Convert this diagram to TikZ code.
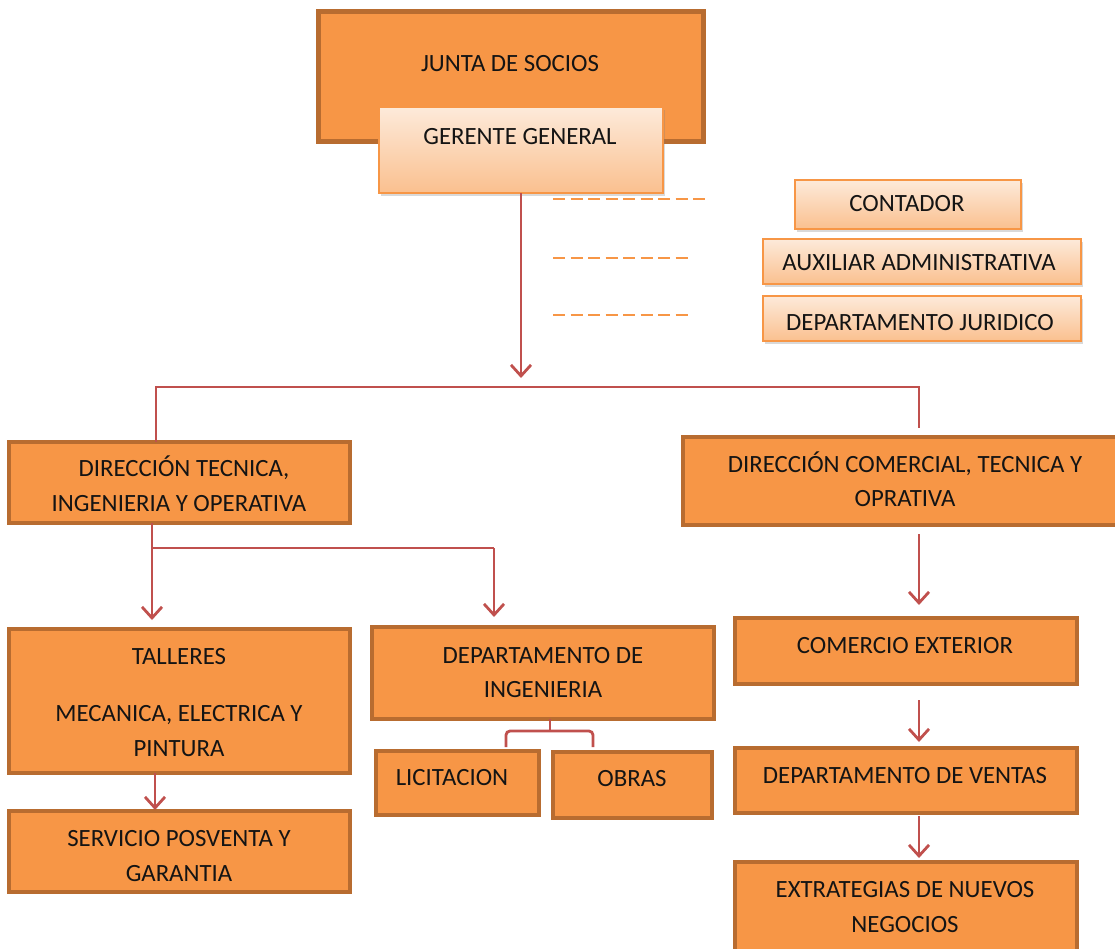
\documentclass[tikz,border=0pt]{standalone}
\usepackage{fontspec}
\setmainfont{Carlito}
\usetikzlibrary{arrows.meta,shadows}
\definecolor{orfill}{HTML}{F79646}
\definecolor{orbord}{RGB}{184,108,48}
\definecolor{conn}{HTML}{C0504D}
\definecolor{ltop}{HTML}{FDEADA}
\definecolor{lbot}{HTML}{FAC08F}
\definecolor{txtc}{HTML}{141414}
\newcommand{\mkbox}[6]{\node[#1, minimum width={#4-#2}, minimum height={#5-#3}] (#6) at ({(#2+#4)/2},{(#3+#5)/2}) {};}
\begin{document}
\begin{tikzpicture}[x=1pt,y=-1pt,
 obox/.style={draw=orbord, fill=orfill, line width=4pt, rectangle, inner sep=0pt, outer sep=0pt},
 lbox/.style={draw=orfill, line width=1.5pt, top color=ltop, bottom color=lbot, rectangle, inner sep=0pt, outer sep=0pt, drop shadow={opacity=0.3,shadow xshift=2pt,shadow yshift=-3pt}},
 lbl/.style={anchor=base, text=txtc, font=\fontsize{24.8}{30}\selectfont, inner sep=0pt},
 cline/.style={draw=conn, line width=2.8pt},
 arr/.style={cline, -{Straight Barb[length=11pt,width=20pt,line width=2.8pt]}},
 dsh/.style={draw=orfill, line width=1.6pt, dash pattern=on 12pt off 5.5pt}]
\useasboundingbox (0,0) rectangle (1115,949);

% boxes
\mkbox{obox, line width=5pt}{318}{12}{703}{142}{junta}
\mkbox{lbox}{379}{107}{663}{193}{gerente}
\mkbox{lbox}{795}{180}{1021}{229}{contador}
\mkbox{lbox}{763}{239}{1081}{284}{auxiliar}
\mkbox{lbox}{763}{296}{1081}{341}{juridico}
\mkbox{obox}{9}{442}{350}{523}{dirtec}
\mkbox{obox}{683}{437}{1125}{525}{dircom}
\mkbox{obox}{9}{629}{350}{773}{talleres}
\mkbox{obox}{9}{811}{350}{892}{servicio}
\mkbox{obox}{372}{627}{714}{719}{depting}
\mkbox{obox}{376}{751}{539}{815}{licitacion}
\mkbox{obox}{553}{752}{712}{818}{obras}
\mkbox{obox}{735}{618}{1077}{684}{comercio}
\mkbox{obox}{735}{748}{1077}{813}{ventas}
\mkbox{obox}{735}{862}{1077}{960}{extrategias}

% texts
\node[lbl] (tjunta) at (510,72) {JUNTA DE SOCIOS};
\node[lbl] (tgerente) at (520,145) {GERENTE GENERAL};
\node[lbl] (tcontador) at (907,212) {CONTADOR};
\node[lbl] (tauxiliar) at (919,271) {AUXILIAR ADMINISTRATIVA};
\node[lbl] (tjuridico) at (920,330) {DEPARTAMENTO JURIDICO};
\node[lbl] (tdirtecA) at (184,476) {DIRECCIÓN TECNICA,};
\node[lbl] (tdirtecB) at (179,511) {INGENIERIA Y OPERATIVA};
\node[lbl] (tdircomA) at (905,472) {DIRECCIÓN COMERCIAL, TECNICA Y};
\node[lbl] (tdircomB) at (905,506) {OPRATIVA};
\node[lbl] (ttallA) at (179,664) {TALLERES};
\node[lbl] (ttallB) at (179,721) {MECANICA, ELECTRICA Y};
\node[lbl] (ttallC) at (179,756) {PINTURA};
\node[lbl] (tservA) at (179,846) {SERVICIO POSVENTA Y};
\node[lbl] (tservB) at (179,881) {GARANTIA};
\node[lbl] (tdeptA) at (543,663) {DEPARTAMENTO DE};
\node[lbl] (tdeptB) at (543,697) {INGENIERIA};
\node[lbl] (tlic) at (452,785) {LICITACION};
\node[lbl] (tobras) at (632,786) {OBRAS};
\node[lbl] (tcom) at (905,653) {COMERCIO EXTERIOR};
\node[lbl] (tvent) at (905,783) {DEPARTAMENTO DE VENTAS};
\node[lbl] (textA) at (905,897) {EXTRATEGIAS DE NUEVOS};
\node[lbl] (textB) at (905,932) {NEGOCIOS};

% coordinates
\coordinate (garr) at (521,378);
\coordinate (hL) at (156,387);
\coordinate (hR) at (919,387);
\coordinate (hRend) at (919,428);
\coordinate (dt) at (152,548);
\coordinate (dtarr) at (152,620);
\coordinate (diarr) at (494,617);
\coordinate (tsx) at (155,810);
\coordinate (bj) at (550,731);
\coordinate (bl) at (506,747);
\coordinate (br) at (593,747);
\coordinate (c1s) at (919,534);
\coordinate (c1e) at (919,605);
\coordinate (c2s) at (919,700);
\coordinate (c2e) at (919,742);
\coordinate (c3s) at (919,816);
\coordinate (c3e) at (919,858);
\coordinate (d1s) at (553,199);
\coordinate (d1e) at (707,199);
\coordinate (d2s) at (553,258);
\coordinate (d2e) at (688,258);
\coordinate (d3s) at (553,315);
\coordinate (d3e) at (688,315);

% connectors
\draw[arr] (gerente.south) -- (garr);
\draw[cline] (dirtec.north -| hL) -- (hL) -- (hR) -- (hRend);
\draw[arr] (dirtec.south -| dt) -- (dtarr);
\draw[cline] (dt) -- (dt -| diarr);
\draw[arr] (dt -| diarr) -- (diarr);
\draw[arr] (talleres.south -| tsx) -- (tsx);
\draw[cline] (depting.south -| bj) -- (bj);
\draw[cline, rounded corners=4pt] (bl) -- (bl |- bj) -- (br |- bj) -- (br);
\draw[arr] (c1s) -- (c1e);
\draw[arr] (c2s) -- (c2e);
\draw[arr] (c3s) -- (c3e);
\draw[dsh] (d1s) -- (d1e);
\draw[dsh] (d2s) -- (d2e);
\draw[dsh] (d3s) -- (d3e);
\end{tikzpicture}
\end{document}
